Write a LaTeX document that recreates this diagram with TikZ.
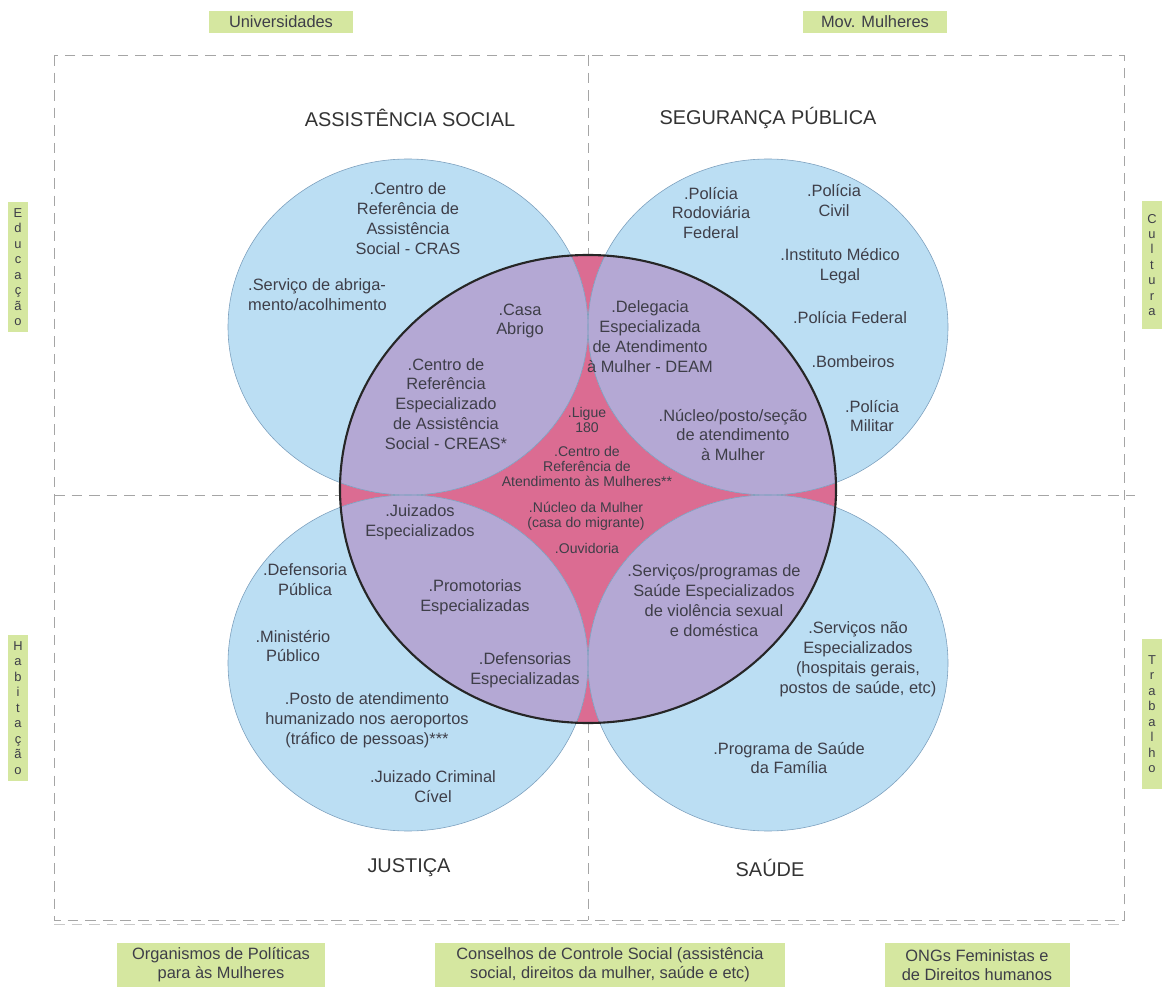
\documentclass[tikz,border=0pt]{standalone}
\usepackage{fontspec}
\setmainfont{Liberation Sans}
\definecolor{bluefill}{RGB}{187,222,243}
\definecolor{blueline}{RGB}{125,160,190}
\definecolor{lilac}{RGB}{180,168,212}
\definecolor{rosa}{RGB}{219,108,146}
\definecolor{verde}{RGB}{213,231,160}
\definecolor{txtgray}{RGB}{62,62,72}
\definecolor{framegray}{RGB}{165,165,165}
\begin{document}
\begin{tikzpicture}[x=0.03cm,y=-0.03cm,
  frame/.style={framegray,dash pattern=on 9pt off 6pt,line width=0.6pt},
  body/.style={align=center,text=txtgray,inner sep=0pt,font=\fontsize{14}{17}\selectfont},
  small/.style={body,font=\fontsize{12}{12.8}\selectfont},
  title/.style={text=black!80,inner sep=0pt,font=\fontsize{17}{20}\selectfont},
  tag/.style={fill=verde,text=txtgray,align=center,inner sep=0pt,font=\fontsize{14}{16}\selectfont},
  sidetag/.style={tag,minimum width=0.6cm,font=\fontsize{11}{13.2}\selectfont}]
  \useasboundingbox (0,0) rectangle (1164,987);

  % Dashed frame and quadrant dividers
  \draw[frame] (54,55) rectangle (1124,920);
  \draw[frame,framegray!60] (54,924) -- (1124,924);
  \draw[frame] (588,55) -- (588,920);
  \draw[frame] (54,495) -- (1135,495);

  % Central ellipse (specialised network)
  \fill[rosa] (588,489) ellipse [x radius=248, y radius=234];

  % Four sectors
  \foreach \cx/\cy in {408/327,768/327,408/663,768/663}
    \fill[bluefill] (\cx,\cy) ellipse [x radius=180, y radius=168];
  \begin{scope}
    \clip (588,489) ellipse [x radius=248, y radius=234];
    \foreach \cx/\cy in {408/327,768/327,408/663,768/663}
      \fill[lilac] (\cx,\cy) ellipse [x radius=180, y radius=168];
  \end{scope}
  \foreach \cx/\cy in {408/327,768/327,408/663,768/663}
    \draw[blueline,line width=0.5pt] (\cx,\cy) ellipse [x radius=180, y radius=168];
  \draw[black!85,line width=1.8pt] (588,489) ellipse [x radius=248, y radius=234];

  % Sector titles
  \node[title] (assist) at (410,118) {ASSISTÊNCIA SOCIAL};
  \node[title] (segur) at (768,118) {SEGURANÇA PÚBLICA};
  \node[title] (justica) at (409,868) {JUSTIÇA};
  \node[title] (saude) at (770,868) {SAÚDE};

  % Assistencia social
  \node[body] (cras) at (408,219) {.Centro de\\Referência de\\Assistência\\Social - CRAS};
  \node[body,align=left,anchor=west] (abrigo) at (248,295) {.Serviço de abriga-\\mento/acolhimento};
  \node[body] (casa) at (520,321) {.Casa\\Abrigo};
  \node[body] (creas) at (446,404) {.Centro de\\Referência\\Especializado\\de Assistência\\Social - CREAS*};

  % Seguranca publica
  \node[body] (prf) at (711,213) {.Polícia\\Rodoviária\\Federal};
  \node[body] (civil) at (834,201) {.Polícia\\Civil};
  \node[body] (iml) at (840,266) {.Instituto Médico\\Legal};
  \node[body] (pf) at (850,318) {.Polícia Federal};
  \node[body] (bombeiros) at (853,362) {.Bombeiros};
  \node[body] (pm) at (872,416) {.Polícia\\Militar};
  \node[body] (deam) at (650,337) {.Delegacia\\Especializada\\de Atendimento\\à Mulher - DEAM};
  \node[body] (nucleo) at (733,435) {.Núcleo/posto/seção\\de atendimento\\à Mulher};

  % Centre
  \node[small] (ligue) at (587,420) {.Ligue\\180};
  \node[small] (cram) at (587,466) {.Centro de\\Referência de\\Atendimento às Mulheres**};
  \node[small] (migrante) at (586,516) {.Núcleo da Mulher\\(casa do migrante)};
  \node[small] (ouvidoria) at (587,548) {.Ouvidoria};

  % Justica
  \node[body] (juizados) at (420,522) {.Juizados\\Especializados};
  \node[body] (promot) at (475,597) {.Promotorias\\Especializadas};
  \node[body] (defesp) at (525,670) {.Defensorias\\Especializadas};
  \node[body] (defpub) at (305,580) {.Defensoria\\Pública};
  \node[body] (mp) at (293,646) {.Ministério\\Público};
  \node[body] (posto) at (367,720) {.Posto de atendimento\\humanizado nos aeroportos\\(tráfico de pessoas)***};
  \node[body] (jcc) at (433,787) {.Juizado Criminal\\Cível};

  % Saude
  \node[body] (saudeesp) at (714,601) {.Serviços/programas de\\Saúde Especializados\\de violência sexual\\e doméstica};
  \node[body] (naoesp) at (858,659) {.Serviços não\\Especializados\\(hospitais gerais,\\postos de saúde, etc)};
  \node[body] (psf) at (789,758) {.Programa de Saúde\\da Família};

  % Partners around the frame
  \node[tag,minimum width=4.29cm,minimum height=0.66cm] (univ) at (281,22) {Universidades};
  \node[tag,minimum width=4.32cm,minimum height=0.66cm] (movm) at (875,22) {Mov. Mulheres};
  \node[sidetag,minimum height=3.9cm] (educ) at (18,267) {E\\d\\u\\c\\a\\ç\\ã\\o};
  \node[sidetag,minimum height=4.35cm] (habit) at (18,708) {H\\a\\b\\i\\t\\a\\ç\\ã\\o};
  \node[sidetag,minimum height=3.84cm] (cult) at (1152,265) {C\\u\\l\\t\\u\\r\\a};
  \node[sidetag,minimum height=4.5cm] (trab) at (1152,714) {T\\r\\a\\b\\a\\l\\h\\o};
  \node[tag,minimum width=6.24cm,minimum height=1.35cm] (org) at (221,965) {Organismos de Políticas\\para às Mulheres};
  \node[tag,minimum width=10.47cm,minimum height=1.35cm] (cons) at (610,965) {Conselhos de Controle Social (assistência\\social, direitos da mulher, saúde e etc)};
  \node[tag,minimum width=5.55cm,minimum height=1.35cm] (ongs) at (977,965) {ONGs Feministas e\\de Direitos humanos};
\end{tikzpicture}
\end{document}
